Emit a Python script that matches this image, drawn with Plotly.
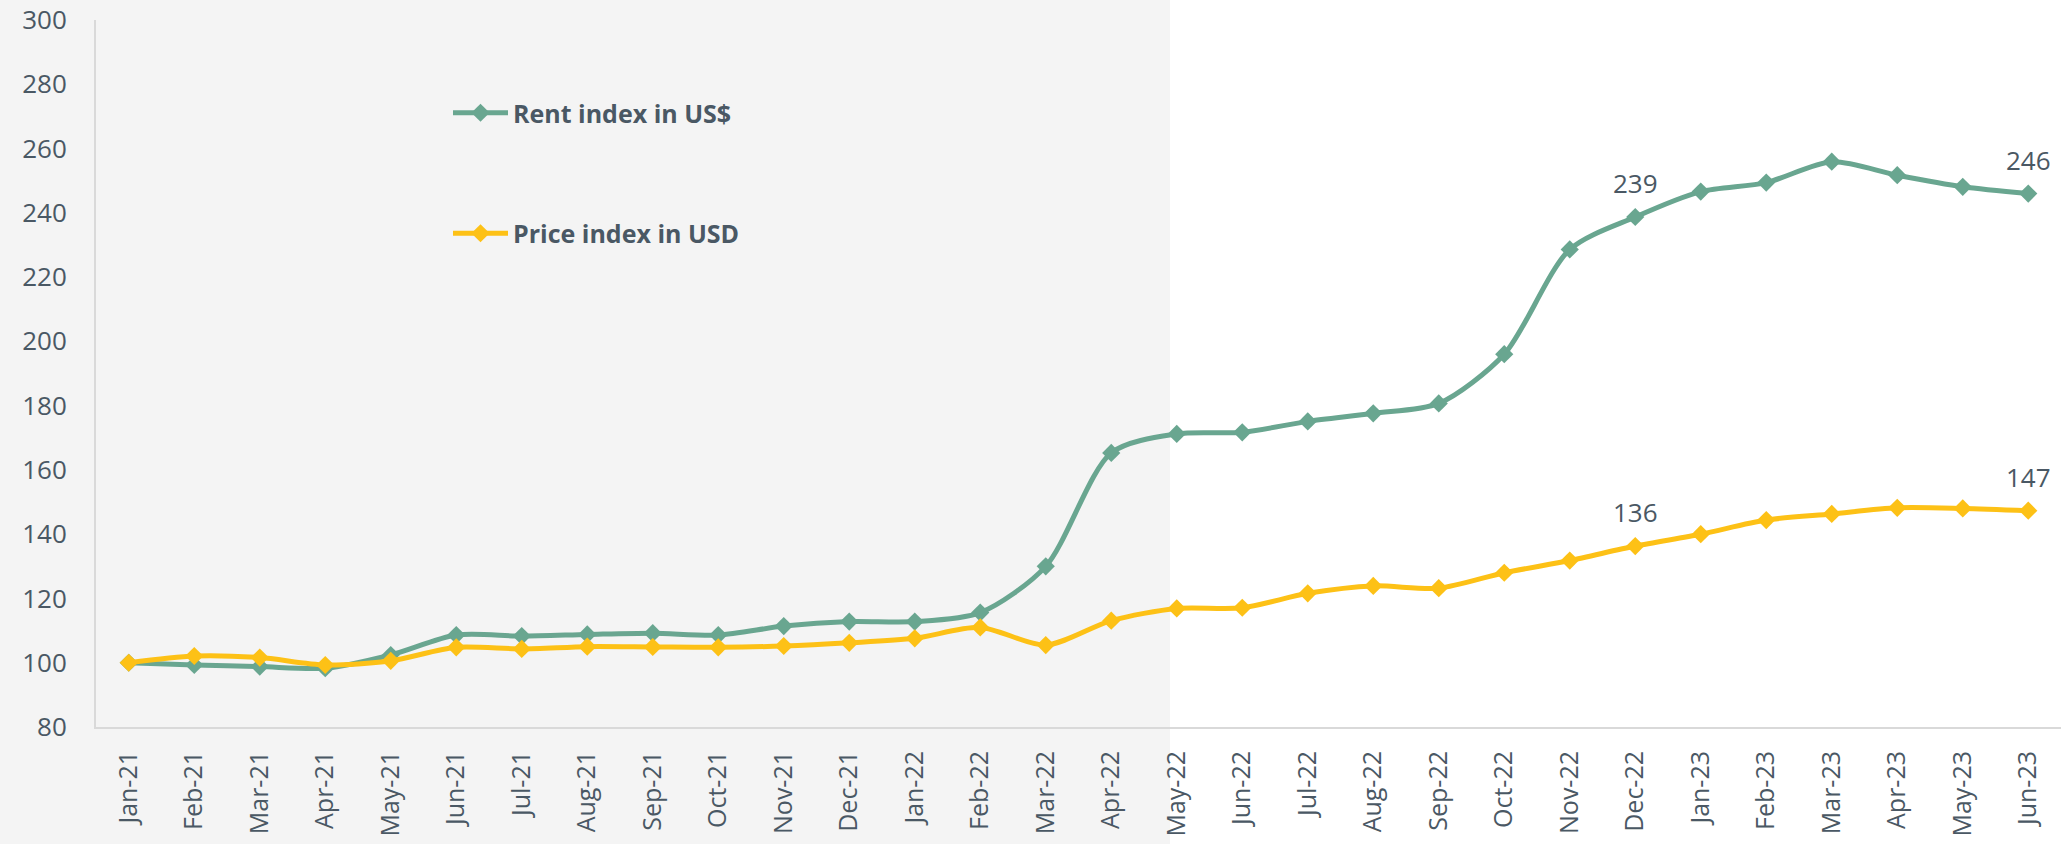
import plotly.graph_objects as go

months = ["Jan-21", "Feb-21", "Mar-21", "Apr-21", "May-21", "Jun-21", "Jul-21", "Aug-21",
          "Sep-21", "Oct-21", "Nov-21", "Dec-21", "Jan-22", "Feb-22", "Mar-22", "Apr-22",
          "May-22", "Jun-22", "Jul-22", "Aug-22", "Sep-22", "Oct-22", "Nov-22", "Dec-22",
          "Jan-23", "Feb-23", "Mar-23", "Apr-23", "May-23", "Jun-23"]

rent_index = [100.0, 99.3, 98.8, 98.3, 102.4, 108.6, 108.3, 108.8, 109.2, 108.6,
              111.4, 112.8, 112.8, 115.6, 130.0, 165.3, 171.2, 171.7, 175.1, 177.6,
              180.7, 196.0, 228.6, 238.7, 246.6, 249.4, 255.9, 251.7, 248.1, 246.0]

price_index = [100.0, 102.1, 101.6, 99.3, 100.6, 104.8, 104.3, 105.0, 104.9, 104.8,
               105.2, 106.2, 107.6, 111.0, 105.5, 113.1, 116.9, 117.1, 121.6, 123.9,
               123.2, 128.0, 131.8, 136.3, 140.0, 144.4, 146.3, 148.2, 148.0, 147.3]

y_ticks = [80, 100, 120, 140, 160, 180, 200, 220, 240, 260, 280, 300]
labelled_months = ["Dec-22", "Jun-23"]

GREEN = "#69a690"
YELLOW = "#fdc116"
TEXT = "#4a5864"
FONT = "'Open Sans', Lato, sans-serif"

W, H = 2065, 844
ML, MR, MT, MB = 96, 4, 20, 117
PW = W - ML - MR
PH = H - MT - MB

fig = go.Figure()
fig.add_trace(go.Scatter(
    x=months, y=rent_index, name="Rent index in US$", mode="lines+markers",
    line=dict(color=GREEN, width=5, shape="spline", smoothing=0.8),
    marker=dict(symbol="diamond", size=14, color=GREEN),
    legendgroup="a",
))
fig.add_trace(go.Scatter(
    x=months, y=price_index, name="Price index in USD", mode="lines+markers",
    line=dict(color=YELLOW, width=5, shape="spline", smoothing=0.8),
    marker=dict(symbol="diamond", size=14, color=YELLOW),
    legendgroup="b",
))

for series in (rent_index, price_index):
    for m in labelled_months:
        i = months.index(m)
        fig.add_annotation(x=m, y=series[i], text=f"{round(series[i])}", showarrow=False,
                           yshift=34, font=dict(size=26, color=TEXT, family=FONT))

# light grey shaded background on the left part
fig.add_shape(type="rect", xref="paper", yref="paper",
              x0=-ML / PW - 0.02, x1=(1170 - ML) / PW, y0=-MB / PH - 0.1, y1=1 + MT / PH + 0.1,
              fillcolor="#f4f4f4", line=dict(width=0), layer="below")

fig.update_layout(
    width=W, height=H,
    margin=dict(l=ML, r=MR, t=MT, b=MB, autoexpand=False),
    paper_bgcolor="white", plot_bgcolor="rgba(0,0,0,0)",
    font=dict(family=FONT, color=TEXT),
    showlegend=True,
    legend=dict(x=(448 - ML) / PW, y=(MT + PH - 90) / PH, xanchor="left", yanchor="top",
                bgcolor="rgba(0,0,0,0)", traceorder="grouped", tracegroupgap=85,
                font=dict(size=25, color=TEXT, family=FONT, weight="bold"),
                itemwidth=55),
    xaxis=dict(type="category", range=[-0.5, len(months) - 0.5], showgrid=False,
               showline=True, linecolor="#d9d9d9", linewidth=2, tickangle=-90,
               ticks="outside", ticklen=12, tickcolor="rgba(0,0,0,0)", automargin=False,
               tickfont=dict(size=25, color=TEXT, family=FONT), zeroline=False),
    yaxis=dict(range=[80, 300], tickvals=y_ticks, showgrid=False, showline=True,
               linecolor="#d9d9d9", linewidth=2, ticks="outside", ticklen=22, automargin=False,
               tickcolor="rgba(0,0,0,0)", tickfont=dict(size=26, color=TEXT, family=FONT),
               zeroline=False),
)

fig.write_html("out.html", config={"displayModeBar": False},
               post_script="document.body.style.margin='0';")
